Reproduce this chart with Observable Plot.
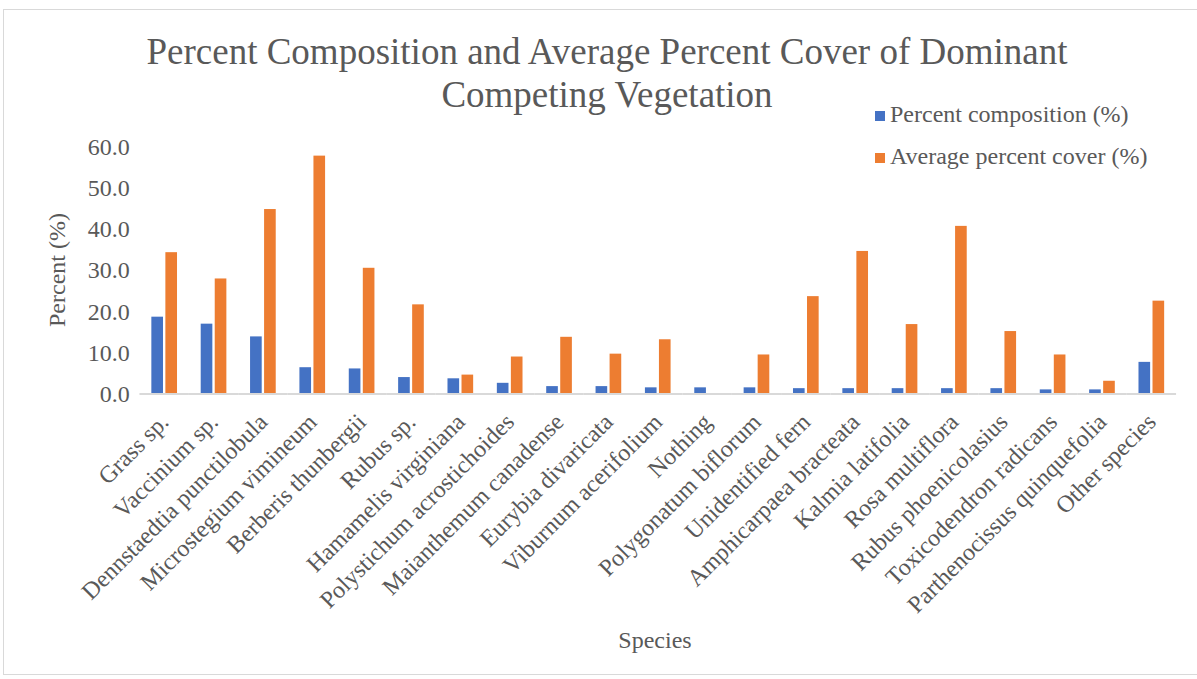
<!DOCTYPE html>
<html>
<head>
<meta charset="utf-8">
<script src="https://cdn.jsdelivr.net/npm/d3@7"></script>
<script src="https://cdn.jsdelivr.net/npm/@observablehq/plot@0.6"></script>
<style>
  html, body { margin: 0; padding: 0; background: #fff; }
  #wrap { position: relative; width: 1197px; height: 679px; overflow: hidden; font-family: "Liberation Serif", "Times New Roman", serif; color: #595959; }
  #border { position: absolute; left: 3px; top: 9px; width: 1200px; height: 666px; border: 1px solid #d9d9d9; box-sizing: border-box; }
  #title { position: absolute; left: 140px; width: 934px; top: 30px; text-align: center; font-size: 37px; line-height: 43px; }
  .leg { position: absolute; left: 875px; font-size: 24px; line-height: 28px; white-space: nowrap; }
  .leg span.sw { display: inline-block; width: 10px; height: 10px; margin-right: 5px; vertical-align: 1px; }
  #ylab { position: absolute; left: 57px; top: 270px; font-size: 24px; transform: translate(-50%, -50%) rotate(-90deg); white-space: nowrap; }
  #xlab { position: absolute; left: 655px; top: 640px; font-size: 24px; transform: translate(-50%, -50%); white-space: nowrap; }
  #chart { position: absolute; left: 0; top: 0; }
</style>
</head>
<body>
<div id="wrap">
  <div id="border"></div>
  <div id="chart"></div>
  <div id="title">Percent Composition and Average Percent Cover of Dominant<br>Competing Vegetation</div>
  <div id="legend"></div>
  <div id="ylab">Percent (%)</div>
  <div id="xlab">Species</div>
</div>
<script>
const species = [
  "Grass sp.", "Vaccinium sp.", "Dennstaedtia punctilobula", "Microstegium vimineum",
  "Berberis thunbergii", "Rubus sp.", "Hamamelis virginiana", "Polystichum acrostichoides",
  "Maianthemum canadense", "Eurybia divaricata", "Viburnum acerifolium", "Nothing",
  "Polygonatum biflorum", "Unidentified fern", "Amphicarpaea bracteata", "Kalmia latifolia",
  "Rosa multiflora", "Rubus phoenicolasius", "Toxicodendron radicans", "Parthenocissus quinquefolia",
  "Other species"
];
const percentComposition = [18.7, 17.0, 13.9, 6.4, 6.1, 4.0, 3.7, 2.6, 1.8, 1.8, 1.5, 1.5, 1.5, 1.3, 1.3, 1.3, 1.3, 1.3, 1.0, 1.0, 7.7];
const averageCover = [34.4, 28.0, 44.9, 57.9, 30.6, 21.7, 4.6, 9.0, 13.8, 9.7, 13.2, 0, 9.5, 23.7, 34.7, 16.9, 40.8, 15.2, 9.5, 3.1, 22.6];
const seriesNames = ["Percent composition (%)", "Average percent cover (%)"];
const seriesColors = ["#4472C4", "#ED7D31"];
const yTicks = [0, 10, 20, 30, 40, 50, 60];

const rows = [];
species.forEach((s, i) => {
  rows.push({species: s, series: seriesNames[0], value: percentComposition[i]});
  rows.push({species: s, series: seriesNames[1], value: averageCover[i]});
});

const chart = Plot.plot({
  width: 1197,
  height: 679,
  marginLeft: 139.5,
  marginRight: 21,
  marginTop: 147,
  marginBottom: 285.5,
  style: {fontFamily: "'Liberation Serif', 'Times New Roman', serif", fontSize: "24px", color: "#595959", background: "transparent"},
  fx: {domain: species, paddingInner: 0.48, paddingOuter: 0.24, round: false, tickRotate: -45, tickSize: 0, tickPadding: 24, label: null},
  x: {domain: seriesNames, paddingInner: 0.17, paddingOuter: 0, round: false, axis: null},
  y: {domain: [0, 60], ticks: yTicks, tickFormat: d3.format(".1f"), tickSize: 0, tickPadding: 22, label: null},
  color: {domain: seriesNames, range: seriesColors},
  marks: [
    Plot.barY(rows, {fx: "species", x: "series", y: "value", fill: "series"}),
    Plot.ruleY([0], {stroke: "#d9d9d9", strokeWidth: 2, insetLeft: -11.9, insetRight: -11.9})
  ]
});
document.getElementById("chart").appendChild(chart);

const legend = document.getElementById("legend");
seriesNames.forEach((name, i) => {
  const d = document.createElement("div");
  d.className = "leg";
  d.style.top = (100 + i * 42) + "px";
  d.innerHTML = `<span class="sw" style="background:${seriesColors[i]}"></span>${name}`;
  legend.appendChild(d);
});
</script>
</body>
</html>
